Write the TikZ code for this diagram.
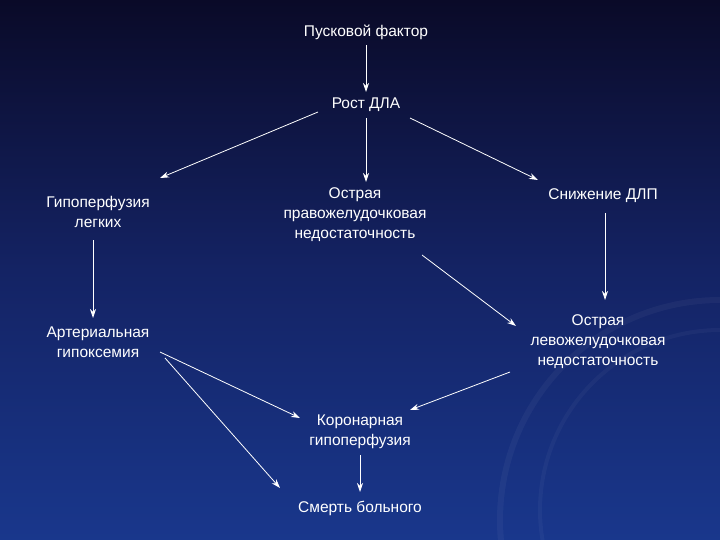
\documentclass[tikz,border=0pt]{standalone}
\usepackage{fontspec}
\setmainfont{Liberation Sans}
\usetikzlibrary{arrows.meta}
\definecolor{topc}{RGB}{10,10,40}
\definecolor{midc}{RGB}{20,35,100}
\definecolor{botc}{RGB}{25,55,140}
\begin{document}
\begin{tikzpicture}[x=1pt,y=-1pt,
  lbl/.style={text=white,font=\fontsize{15.5}{20}\selectfont,align=center,inner sep=1pt},
  arr/.style={draw=white,line width=0.8pt,-{Stealth[length=9pt,width=6pt]}}]
\useasboundingbox (0,0) rectangle (720,540);
\begin{scope}
\clip (0,0) rectangle (720,540);
\shade[top color=topc, bottom color=botc, middle color=midc] (0,0) rectangle (720,540);
\draw[white,opacity=0.04,line width=6pt] (720,300) arc[start angle=90,end angle=200,radius=220pt];
\draw[white,opacity=0.035,line width=4pt] (720,330) arc[start angle=90,end angle=200,radius=180pt];
\end{scope}
\node[lbl] (p) at (366,32) {Пусковой фактор};
\node[lbl] (r) at (366,105) {Рост ДЛА};
\node[lbl] (g) at (98,212) {Гипоперфузия\\легких};
\node[lbl] (o) at (355,215) {Острая\\правожелудочковая\\недостаточность};
\node[lbl] (s) at (603,196) {Снижение ДЛП};
\node[lbl] (a) at (98,342) {Артериальная\\гипоксемия};
\node[lbl] (l) at (598,342) {Острая\\левожелудочковая\\недостаточность};
\node[lbl] (k) at (360,432) {Коронарная\\гипоперфузия};
\node[lbl] (d) at (360,508) {Смерть больного};
\coordinate (g1) at (93,240); \coordinate (g2) at (93,318);
\coordinate (r1) at (318,112); \coordinate (rg) at (160,178);
\coordinate (r0) at (366,118); \coordinate (ro) at (366,182);
\coordinate (r2) at (410,118); \coordinate (rs) at (538,180);
\coordinate (s1) at (605,213); \coordinate (s2) at (605,300);
\coordinate (p1) at (366,45); \coordinate (p2) at (366,92);
\coordinate (k0) at (360,455); \coordinate (d0) at (360,492);
\draw[arr] (p1) -- (p2);
\draw[arr] (r1) -- (rg);
\draw[arr] (r0) -- (ro);
\draw[arr] (r2) -- (rs);
\draw[arr] (g1) -- (g2);
\draw[arr] (s1) -- (s2);
\draw[arr] (422,255) coordinate (o1) -- (516,326) coordinate (l1);
\draw[arr] (510,372) coordinate (l2) -- (410,410) coordinate (k1);
\draw[arr] (160,352) coordinate (a1) -- (300,418) coordinate (k2);
\draw[arr] (165,358) coordinate (a2) -- (280,488) coordinate (d1);
\draw[arr] (k0) -- (d0);
\end{tikzpicture}
\end{document}
